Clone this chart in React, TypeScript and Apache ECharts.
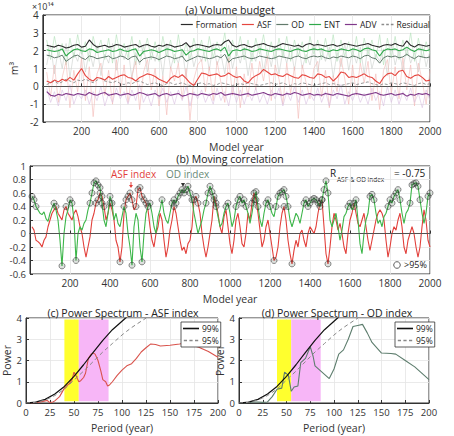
import React, { useEffect, useRef } from "react";
import * as echarts from "echarts";

// ---------- Panel (a): volume budget (x 1e14 m^3), 20-year samples ----------
const yearsA = Array.from({ length: 100 }, (_, i) => (i + 1) * 20);
const formation = [
  2.3,2.25,2.2,2.3,2.25,2.15,2.2,2.3,2.35,2.2,
  2.25,2.6,2.35,2.2,2.25,2.3,2.2,2.25,2.35,2.3,
  2.2,2.25,2.3,2.35,2.2,2.3,2.35,2.25,2.2,2.3,
  2.25,2.35,2.3,2.2,2.25,2.3,2.45,2.2,2.3,2.35,
  2.3,2.25,2.2,2.3,2.35,2.3,2.5,2.6,2.3,2.2,
  2.3,2.35,2.25,2.2,2.3,2.35,2.4,2.3,2.25,2.2,
  2.3,2.4,2.35,2.3,2.25,2.3,2.2,2.35,2.4,2.3,
  2.35,2.3,2.25,2.3,2.35,2.25,2.3,2.4,2.35,2.3,
  2.25,2.3,2.35,2.4,2.3,2.25,2.2,2.3,2.35,2.3,
  2.4,2.3,2.25,2.55,2.3,2.2,2.35,2.3,2.25,2.3,
];
const ent = [
  2.05,2.0,1.95,2.0,2.1,1.7,1.9,2.05,2.1,2.0,
  1.95,2.1,2.05,1.9,1.95,2.0,2.05,1.95,2.0,2.1,
  2.0,1.95,2.05,2.1,1.7,1.95,2.0,2.05,2.0,1.9,
  2.0,2.1,2.05,1.95,2.0,2.05,1.75,1.95,2.0,2.1,
  2.05,2.0,1.95,2.05,2.1,2.0,2.2,1.7,2.0,2.05,
  2.0,2.1,2.05,1.95,2.0,2.1,2.05,2.0,1.95,2.05,
  2.1,2.05,2.0,1.95,2.05,2.1,2.0,1.95,2.05,2.1,
  2.05,2.1,2.0,1.95,2.05,2.0,2.1,2.05,2.0,2.1,
  2.05,1.95,2.1,2.15,2.05,2.0,1.7,2.0,2.1,2.05,
  2.1,2.0,2.05,2.2,2.05,1.95,2.1,2.05,2.0,2.05,
];
const od = [
  1.75,1.7,1.6,1.65,1.75,1.4,1.55,1.7,1.75,1.6,
  1.5,1.7,1.65,1.55,1.6,1.65,1.7,1.55,1.6,1.7,
  1.65,1.5,1.65,1.7,1.35,1.55,1.6,1.65,1.6,1.5,
  1.6,1.7,1.65,1.55,1.6,1.7,1.4,1.5,1.6,1.7,
  1.65,1.6,1.55,1.6,1.7,1.6,1.8,1.35,1.55,1.6,
  1.65,1.7,1.6,1.55,1.6,1.7,1.65,1.6,1.55,1.6,
  1.7,1.65,1.6,1.55,1.65,1.7,1.6,1.55,1.65,1.7,
  1.65,1.7,1.6,1.55,1.65,1.6,1.7,1.65,1.6,1.7,
  1.65,1.55,1.7,1.75,1.6,1.55,1.3,1.6,1.7,1.65,
  1.7,1.6,1.65,1.8,1.65,1.55,1.7,1.65,1.6,1.65,
];
const asf = [
  0.3,0.2,0.35,0.25,0.4,0.3,0.5,0.35,0.7,1.0,
  0.6,0.4,0.3,0.5,0.45,0.35,0.55,0.4,0.5,0.6,
  0.65,0.5,0.45,0.3,0.5,0.6,0.7,0.65,0.55,0.4,
  0.3,0.2,0.45,0.6,0.5,0.65,0.45,0.2,0.05,0.4,
  0.75,0.7,0.6,0.65,0.7,0.55,0.6,0.75,0.6,0.5,
  0.55,0.3,0.2,0.45,0.6,0.7,0.95,0.8,0.65,0.7,
  0.6,0.55,0.7,0.6,0.5,0.45,0.65,0.6,0.5,0.45,
  0.7,0.65,0.5,0.55,0.3,0.5,0.8,0.75,0.5,0.55,
  0.5,0.6,0.7,0.55,0.5,0.3,0.15,0.5,0.7,0.75,
  0.6,0.85,0.9,0.55,0.45,0.6,0.65,0.5,0.3,0.35,
];
const adv = [
  -0.3,-0.5,-0.55,-0.45,-0.5,-0.4,-0.45,-0.5,-0.4,-0.45,
  -0.5,-0.35,-0.45,-0.5,-0.4,-0.35,-0.5,-0.45,-0.4,-0.5,
  -0.45,-0.4,-0.5,-0.45,-0.35,-0.4,-0.5,-0.45,-0.4,-0.55,
  -0.45,-0.4,-0.5,-0.45,-0.4,-0.55,-0.5,-0.4,-0.45,-0.5,
  -0.4,-0.45,-0.5,-0.4,-0.45,-0.35,-0.5,-0.45,-0.4,-0.45,
  -0.5,-0.45,-0.4,-0.5,-0.45,-0.4,-0.35,-0.45,-0.5,-0.4,
  -0.45,-0.5,-0.4,-0.45,-0.35,-0.4,-0.5,-0.45,-0.4,-0.5,
  -0.45,-0.5,-0.4,-0.45,-0.5,-0.4,-0.45,-0.5,-0.55,-0.45,
  -0.4,-0.45,-0.5,-0.45,-0.4,-0.35,-0.45,-0.5,-0.45,-0.4,
  -0.5,-0.45,-0.4,-0.55,-0.45,-0.5,-0.4,-0.45,-0.4,-0.5,
];
const residual = [
  0.1,0.2,0.3,0.15,0.25,0.4,0.3,0.2,0.35,0.3,
  0.4,0.3,0.2,0.35,0.45,0.3,0.25,0.2,0.3,0.15,
  0.1,0.2,0.15,0.25,0.3,0.2,0.1,0.15,0.2,0.1,
  0.05,0.15,0.2,0.1,0.15,0.2,0.1,0.05,0.1,0.15,
  0.2,0.1,0.15,0.05,0.1,0.2,0.15,0.1,0.05,0.1,
  0.15,0.1,0.2,0.15,0.1,0.05,0.1,0.15,0.2,0.1,
  0.15,0.2,0.1,0.05,0.15,0.1,0.2,0.15,0.1,0.05,
  0.1,0.15,0.2,0.1,0.15,0.1,0.05,0.1,0.15,0.2,
  0.1,0.15,0.2,0.25,0.15,0.1,0.05,0.15,0.1,0.2,
  0.15,0.1,0.2,0.15,0.1,0.05,0.15,0.2,0.1,0.15,
];
// raw (unsmoothed) spread, drawn faintly
const asfRaw = [
  0.8,-0.6,1.2,-0.9,0.5,1.4,-1.2,0.9,-0.3,1.6,
  -0.8,1.1,-1.7,0.7,1.3,-0.5,0.9,-1.0,1.5,-0.4,
  1.2,-0.9,0.6,1.4,-1.3,0.8,1.5,-0.2,1.0,-1.1,
  0.6,-1.6,1.1,0.3,1.3,-0.7,1.0,-1.9,0.4,1.2,
  1.5,-0.3,1.1,-0.8,1.4,0.2,-0.9,1.6,-0.5,1.1,
  -1.2,0.7,-0.6,1.3,-0.2,1.4,0.3,1.7,-0.8,1.2,
  0.4,-1.0,1.3,-0.4,1.1,-1.8,1.2,0.2,-0.7,1.0,
  1.4,-0.6,0.9,-1.2,0.6,-0.3,1.6,0.4,-1.0,1.2,
  -0.5,1.3,0.2,1.4,-0.8,0.7,-1.3,0.9,1.5,-0.4,
  1.1,-0.7,1.6,-0.2,1.2,-1.1,1.3,0.3,-1.0,0.9,
];
const entRaw = [
  2.6,1.5,2.8,1.7,2.4,1.2,2.7,1.6,2.9,1.8,
  2.5,1.4,2.8,1.9,2.6,1.5,2.7,1.3,2.9,1.7,
  2.4,1.6,2.8,1.2,2.6,1.8,2.7,1.5,2.5,1.4,
  2.8,1.7,2.6,1.3,2.9,1.6,2.4,1.5,2.7,1.8,
  2.6,1.4,2.8,1.6,2.5,1.9,3.0,1.3,2.6,1.7,
  2.8,1.5,2.6,1.4,2.7,1.8,2.9,1.6,2.5,1.5,
  2.7,1.6,2.8,1.4,2.6,1.7,2.5,1.3,2.8,1.8,
  2.6,1.5,2.7,1.6,2.9,1.4,2.6,1.7,2.5,1.6,
  2.8,1.3,2.7,1.8,2.6,1.5,2.9,1.2,2.7,1.6,
  2.8,1.5,2.6,1.7,3.0,1.4,2.7,1.6,2.5,1.8,
];
const odRaw = [
  1.2,2.3,0.7,2.1,1.0,2.4,0.5,1.9,1.4,2.2,
  0.8,2.0,1.1,2.3,0.6,1.8,1.3,2.4,0.9,2.1,
  1.5,2.2,0.4,1.9,1.2,2.3,0.8,2.0,1.4,2.2,
  0.6,2.4,1.0,1.8,1.3,2.1,0.5,2.3,1.1,1.9,
  1.4,2.2,0.9,2.4,1.2,1.8,0.7,2.3,1.0,2.0,
  1.3,2.2,0.6,1.9,1.4,2.4,0.8,2.1,1.1,2.3,
  0.7,2.0,1.3,2.2,0.9,2.4,1.0,1.8,1.2,2.3,
  0.8,2.1,1.4,2.2,0.5,1.9,1.1,2.4,0.9,2.0,
  1.3,2.2,0.7,2.3,1.0,1.8,1.4,2.1,0.6,2.4,
  1.2,2.0,0.9,2.2,1.3,1.9,0.8,2.3,1.1,2.0,
];
const advRaw = [
  -0.1,-0.9,-0.3,-1.1,-0.2,-0.8,0.1,-1.0,-0.4,-0.7,
  -0.2,-1.0,-0.3,-0.8,0.0,-1.1,-0.4,-0.9,-0.1,-0.7,
  -0.3,-1.0,-0.2,-0.8,0.1,-0.9,-0.4,-1.1,-0.2,-0.7,
  -0.1,-0.9,-0.3,-1.0,-0.2,-0.8,0.0,-1.1,-0.3,-0.7,
  -0.2,-0.9,-0.4,-1.0,-0.1,-0.8,-0.3,-1.1,0.0,-0.9,
  -0.2,-1.0,-0.3,-0.8,-0.1,-0.9,-0.4,-1.0,-0.2,-0.7,
  -0.1,-1.1,-0.3,-0.8,0.0,-0.9,-0.2,-1.0,-0.4,-0.8,
  -0.1,-0.9,-0.3,-1.1,-0.2,-0.7,0.1,-1.0,-0.3,-0.8,
  -0.2,-0.9,-0.4,-1.0,-0.1,-0.8,-0.3,-1.1,0.0,-0.9,
  -0.2,-1.0,-0.3,-0.8,-0.1,-0.9,-0.4,-1.2,-0.2,-0.8,
];

// ---------- Panel (b): moving correlation, 10-year samples ----------
const yearsB = Array.from({ length: 200 }, (_, i) => (i + 1) * 10);
const odCorr = [
  0.55,0.5,0.4,0.35,0.3,0.28,0.32,0.22,0.18,0.3,
  0.38,0.45,0.35,0.2,-0.1,-0.48,0.0,0.25,0.35,0.5,
  0.45,0.2,-0.4,0.0,0.1,0.05,0.15,0.2,0.35,0.45,
  0.6,0.75,0.78,0.72,0.68,0.45,0.2,0.1,0.3,0.55,
  0.45,0.2,0.3,0.15,0.1,0.25,0.4,0.3,0.0,-0.2,
  -0.47,0.1,0.3,0.2,-0.2,-0.42,0.0,0.3,0.4,0.45,
  0.3,0.1,0.0,0.25,0.35,0.5,0.3,0.2,0.15,0.3,
  0.45,0.5,0.45,0.55,0.6,0.65,0.6,0.65,0.7,0.6,
  0.5,0.3,0.15,0.0,0.1,0.2,0.35,0.45,0.6,0.7,
  0.62,0.5,0.4,0.25,0.1,0.15,0.3,0.4,0.45,0.3,
  0.1,0.2,0.4,0.5,0.55,0.45,0.5,0.4,0.3,0.15,
  0.3,0.5,0.62,0.4,0.2,0.1,0.3,0.45,0.5,0.4,
  0.3,0.25,0.4,0.55,0.6,0.62,0.65,0.55,0.4,0.2,
  0.1,0.2,0.3,0.25,0.15,0.3,0.45,0.5,0.4,0.45,
  0.5,0.52,0.5,0.45,0.4,0.5,0.65,0.78,0.6,0.2,
  0.1,0.2,0.3,0.1,-0.1,0.05,0.25,0.3,0.4,0.45,
  0.35,0.4,0.5,0.2,-0.15,-0.3,0.0,0.2,0.3,0.55,
  0.58,0.5,0.3,0.15,0.2,0.1,0.25,0.3,0.4,0.5,
  0.45,0.55,0.6,0.65,0.5,0.3,0.15,0.3,0.35,0.45,
  0.72,0.74,0.75,0.7,0.5,0.3,0.15,0.3,0.55,0.6,
];
const asfCorr = [
  0.1,0.05,-0.1,-0.12,-0.15,-0.2,-0.1,-0.05,0.1,0.2,
  0.3,0.35,0.4,0.3,0.25,0.2,0.35,0.4,0.3,0.25,
  0.2,0.3,0.35,0.25,0.1,0.0,-0.2,-0.35,-0.2,-0.05,
  0.2,0.3,0.45,0.5,0.6,0.55,0.4,0.2,0.3,0.45,
  0.35,0.2,-0.1,-0.2,-0.42,-0.2,0.3,0.5,0.55,0.6,
  0.5,0.35,0.4,0.65,0.68,0.55,0.5,0.45,0.35,0.1,
  -0.1,-0.2,0.0,0.1,0.3,0.2,-0.1,-0.35,-0.2,0.05,
  0.2,0.4,0.3,0.1,-0.1,-0.25,-0.2,-0.3,-0.15,-0.1,
  0.1,0.5,0.55,0.45,0.3,0.0,-0.2,-0.35,-0.2,0.0,
  0.2,0.55,0.45,0.3,0.1,0.0,0.25,0.35,0.1,-0.15,
  -0.3,-0.1,0.2,0.3,0.1,-0.15,-0.2,0.0,0.3,0.2,
  0.45,0.6,0.5,0.3,0.05,-0.2,-0.1,0.1,0.2,0.0,
  -0.2,-0.4,-0.35,-0.2,0.1,0.3,0.4,0.2,-0.1,-0.3,
  -0.45,-0.25,-0.1,-0.2,0.0,0.05,-0.1,-0.2,0.0,0.1,
  0.05,0.0,0.1,0.3,0.45,0.5,0.1,-0.3,-0.45,-0.2,
  0.1,0.3,0.2,0.05,0.15,0.0,-0.2,-0.3,0.0,0.2,
  0.3,0.45,0.3,0.15,0.1,0.2,0.3,0.1,-0.1,-0.25,
  -0.1,0.05,0.2,0.3,0.35,0.3,0.2,-0.1,-0.35,-0.2,
  0.0,0.1,0.05,0.2,0.3,0.1,-0.2,-0.3,-0.1,0.0,
  0.1,0.0,-0.2,-0.35,-0.2,0.1,0.35,0.2,-0.1,-0.2,
];
const sigLevel = 0.4;

// ---------- Panels (c), (d): power spectra ----------
const periodsASF = [5,10,15,20,22,25,28,30,35,40,42,45,48,50,52,55,57,60,62,65,68,70,72,75,78,80,83,85,87,90,95,100,105,110,115,120,125,130,135,140,150,160,165,170,180,190,200];
const powerASF = [0,0.02,0.05,0.1,0.12,0.02,0.05,0.1,0.3,0.7,0.8,0.9,1.1,1.45,1.3,1.0,1.05,1.2,1.4,2.1,2.3,2.35,2.3,2.0,1.5,1.1,1.0,0.8,0.85,1.0,1.3,1.55,1.75,1.85,2.1,2.4,2.6,2.78,2.75,2.68,2.72,2.78,2.82,2.76,2.62,2.42,2.15];
const periodsOD = [5,10,15,20,25,30,35,40,45,48,52,55,58,62,65,70,75,78,80,90,95,100,105,110,115,120,125,130,135,140,150,160,165,175,185,200];
const powerOD = [0,0.02,0.05,0.05,0.03,0.05,0.3,0.65,0.7,1.45,1.3,0.55,0.75,0.8,1.9,2.1,2.65,2.2,1.75,1.35,1.15,1.6,2.3,2.5,3.0,3.6,3.65,3.7,3.3,2.85,2.35,2.33,2.3,2.0,1.7,1.1];
const periodsSig = [0,10,20,30,40,50,60,70,80,90,100,105,110,120,127];
const sig99 = [0,0.04,0.17,0.42,0.78,1.25,1.8,2.38,2.95,3.45,3.85,4.05,null,null,null];
const sig95 = [0,0.03,0.14,0.35,0.65,1.08,1.5,1.95,2.4,2.8,3.2,3.38,3.55,3.85,4.05];
const bandYellow = [40, 55];
const bandPink = [55, 86];

const FONT = "Open Sans";
const LINE_ICON = "path://M0,0 H20 V2 H0 Z";
const DASH_ICON = "path://M0,0 H4 V2 H0 Z M7,0 H11 V2 H7 Z M14,0 H18 V2 H14 Z";
const zip = (xs: number[], ys: (number | null)[]) => xs.map((x, i) => [x, ys[i]]);

function axisX(gridIndex: number, min: number, max: number, interval: number, name: string, fs: number, hideZero: boolean) {
  return {
    type: "value", gridIndex, min, max, interval,
    name, nameLocation: "middle", nameGap: 19,
    nameTextStyle: { fontSize: 10.5, color: "#333", fontFamily: FONT },
    axisLine: { show: true, lineStyle: { color: "#333", width: 1 } },
    axisTick: { show: true, inside: true, length: 3, lineStyle: { color: "#333" } },
    axisLabel: { fontSize: fs, color: "#333", margin: 4, fontFamily: FONT, formatter: (v: number) => (hideZero && v === 0 ? "" : String(v)) },
    splitLine: { show: true, lineStyle: { color: "#e4e4e4", width: 0.8 } },
  };
}
function axisY(gridIndex: number, min: number, max: number, interval: number, name: string, gap: number, fs: number) {
  return {
    type: "value", gridIndex, min, max, interval,
    name, nameLocation: "middle", nameGap: gap, nameRotate: 90,
    nameTextStyle: { fontSize: 10.5, color: "#333", fontFamily: FONT },
    axisLine: { show: true, lineStyle: { color: "#333", width: 1 } },
    axisTick: { show: true, inside: true, length: 3, lineStyle: { color: "#333" } },
    axisLabel: { fontSize: fs, color: "#333", margin: 4, fontFamily: FONT, formatter: (v: number) => String(Math.round(v * 10) / 10) },
    splitLine: { show: true, lineStyle: { color: "#e4e4e4", width: 0.8 } },
  };
}
const lineS = (name: string, xi: number, data: any[], color: string, width: number, extra: any = {}) => ({
  type: "line", name, xAxisIndex: xi, yAxisIndex: xi, data, symbol: "none", showSymbol: false,
  lineStyle: { color, width }, itemStyle: { color }, z: 3, ...extra,
});

export default function App() {
  const ref = useRef<HTMLDivElement>(null);
  useEffect(() => {
    if (!ref.current) return;
    const chart = echarts.init(ref.current, null, { renderer: "svg" });
    const circles = [...zip(yearsB, asfCorr), ...zip(yearsB, odCorr)].filter((p) => Math.abs(p[1] as number) >= sigLevel);
    const bandSeries = (xi: number) => ({
      type: "line", name: "band" + xi, xAxisIndex: xi, yAxisIndex: xi, data: [[0, 0]], symbol: "none",
      lineStyle: { opacity: 0 }, z: 1, silent: true,
      markArea: {
        silent: true,
        data: [
          [{ xAxis: bandYellow[0], yAxis: 0.08, itemStyle: { color: "#ffff2e" } }, { xAxis: bandYellow[1], yAxis: 3.93 }],
          [{ xAxis: bandPink[0], yAxis: 0.08, itemStyle: { color: "#f7b6f7" } }, { xAxis: bandPink[1], yAxis: 3.93 }],
        ],
      },
    });
    const zeroLine = { silent: true, symbol: "none", label: { show: false }, lineStyle: { color: "#555", width: 0.9, type: "solid" }, data: [{ yAxis: 0 }] };
    const titleStyle = { fontSize: 10.5, fontWeight: "normal", color: "#222", lineHeight: 12 };
    const specLegend = (left: number) => ({
      data: [{ name: "99%", icon: LINE_ICON }, { name: "95%", icon: DASH_ICON }],
      left, top: 322, orient: "vertical", itemWidth: 16, itemHeight: 1.6, itemGap: 3,
      padding: [2, 2, 2, 2], backgroundColor: "#fff", borderColor: "#333", borderWidth: 0.8,
      textStyle: { fontSize: 8.5, color: "#222", padding: [0, 0, 0, -2] },
    });
    const option: any = {
      animation: false,
      textStyle: { fontFamily: FONT },
      title: [
        { text: "(a) Volume budget", left: 230, top: 4, textAlign: "center", padding: 0, textStyle: titleStyle },
        { text: "(b) Moving correlation", left: 230, top: 153, textAlign: "center", padding: 0, textStyle: titleStyle },
        { text: "(c) Power Spectrum - ASF index", left: 123, top: 307, textAlign: "center", padding: 0, textStyle: titleStyle },
        { text: "(d) Power Spectrum - OD index", left: 337, top: 307, textAlign: "center", padding: 0, textStyle: titleStyle },
      ],
      legend: [
        {
          data: [
            { name: "Formation", icon: LINE_ICON }, { name: "ASF", icon: LINE_ICON }, { name: "OD", icon: LINE_ICON },
            { name: "ENT", icon: LINE_ICON }, { name: "ADV", icon: LINE_ICON }, { name: "Residual", icon: DASH_ICON },
          ],
          right: 24, top: 20, itemWidth: 12, itemHeight: 1.5, itemGap: 5, padding: 0,
          textStyle: { fontSize: 8.5, color: "#222", padding: [0, 0, 0, -2] },
        },
        specLegend(181),
        specLegend(395),
      ],
      grid: [
        { left: 30, top: 15, width: 400, height: 107, show: true, borderColor: "#333", borderWidth: 1 },
        { left: 30, top: 166, width: 400, height: 108, show: true, borderColor: "#333", borderWidth: 1 },
        { left: 26, top: 318, width: 192, height: 85, show: true, borderColor: "#333", borderWidth: 1 },
        { left: 239, top: 318, width: 190, height: 85, show: true, borderColor: "#333", borderWidth: 1 },
      ],
      xAxis: [
        axisX(0, 0, 2000, 200, "Model year", 10, true),
        axisX(1, 0, 2000, 200, "Model year", 10, true),
        axisX(2, 0, 200, 25, "Period (year)", 9.5, false),
        axisX(3, 0, 200, 25, "Period (year)", 9.5, false),
      ],
      yAxis: [
        axisY(0, -2, 4, 1, "m³", 17, 10),
        axisY(1, -0.6, 1, 0.2, "", 20, 9.5),
        axisY(2, 0, 4, 1, "Power", 11, 9.5),
        axisY(3, 0, 4, 1, "Power", 11, 9.5),
      ],
      series: [
        // panel (a) faint raw spread
        lineS("ODraw", 0, zip(yearsA, odRaw), "#c9cfcb", 0.6, { z: 1 }),
        lineS("ENTraw", 0, zip(yearsA, entRaw), "#b2e0b8", 0.6, { z: 1 }),
        lineS("ASFraw", 0, zip(yearsA, asfRaw), "#f4b9b6", 0.6, { z: 1 }),
        lineS("ADVraw", 0, zip(yearsA, advRaw), "#d8bfe0", 0.6, { z: 1 }),
        lineS("Residual", 0, zip(yearsA, residual), "#8c8c8c", 0.9, { lineStyle: { color: "#8c8c8c", width: 0.9, type: [3, 2] } }),
        lineS("OD", 0, zip(yearsA, od), "#627a6c", 1),
        lineS("ENT", 0, zip(yearsA, ent), "#2fa84a", 1.1),
        lineS("Formation", 0, zip(yearsA, formation), "#2a2a2a", 1.1, { markLine: zeroLine }),
        lineS("ASF", 0, zip(yearsA, asf), "#e5463f", 1.1),
        lineS("ADV", 0, zip(yearsA, adv), "#80388a", 1.1),
        // panel (b)
        lineS("ASF index", 1, zip(yearsB, asfCorr), "#e2403b", 1.1, { markLine: zeroLine }),
        lineS("OD index", 1, zip(yearsB, odCorr), "#3db64a", 1.1),
        {
          type: "scatter", name: "sig", xAxisIndex: 1, yAxisIndex: 1, data: circles, symbol: "circle", symbolSize: 6, z: 4,
          itemStyle: { color: "rgba(20,50,25,0.18)", borderColor: "#333", borderWidth: 0.7 },
        },
        // panel (c)
        bandSeries(2),
        lineS("ASF spectrum", 2, zip(periodsASF, powerASF), "#d9534c", 1.1),
        lineS("99%", 2, zip(periodsSig, sig99), "#111", 1.2),
        lineS("95%", 2, zip(periodsSig, sig95), "#888", 1, { lineStyle: { color: "#888", width: 1, type: [4, 3] } }),
        // panel (d)
        bandSeries(3),
        lineS("OD spectrum", 3, zip(periodsOD, powerOD), "#5d7d6d", 1.1),
        lineS("99%", 3, zip(periodsSig, sig99), "#111", 1.2),
        lineS("95%", 3, zip(periodsSig, sig95), "#888", 1, { lineStyle: { color: "#888", width: 1, type: [4, 3] } }),
      ],
      graphic: [
        { type: "text", x: 32, y: 2, style: { text: "×10¹⁴", font: `9px "${FONT}"`, fill: "#333" } },
        { type: "text", x: 111, y: 169, style: { text: "ASF index", font: `10px "${FONT}"`, fill: "#e2403b" } },
        { type: "line", shape: { x1: 131, y1: 182, x2: 131, y2: 186 }, style: { stroke: "#e2403b", lineWidth: 1 } },
        { type: "polygon", shape: { points: [[129, 185], [133, 185], [131, 188]] }, style: { fill: "#e2403b" } },
        { type: "text", x: 166, y: 169, style: { text: "OD index", font: `10px "${FONT}"`, fill: "#6a8a76" } },
        { type: "polygon", shape: { points: [[181, 183], [185, 183], [183, 187]] }, style: { fill: "#333" } },
        { type: "text", x: 330, y: 168, style: { text: "R", font: `10px "${FONT}"`, fill: "#222" } },
        { type: "text", x: 337, y: 176, style: { text: "ASF & OD index", font: `6.5px "${FONT}"`, fill: "#222" } },
        { type: "text", x: 394, y: 168, style: { text: "= -0.75", font: `10px "${FONT}"`, fill: "#222" } },
        { type: "circle", shape: { cx: 397, cy: 265, r: 3.3 }, style: { fill: "#fff", stroke: "#333", lineWidth: 0.8 } },
        { type: "text", x: 404, y: 260, style: { text: ">95%", font: `9px "${FONT}"`, fill: "#222" } },
      ],
    };
    chart.setOption(option);
    return () => chart.dispose();
  }, []);
  return <div ref={ref} style={{ position: "absolute", left: 0, top: 0, width: 454, height: 436, background: "#fff" }} />;
}
